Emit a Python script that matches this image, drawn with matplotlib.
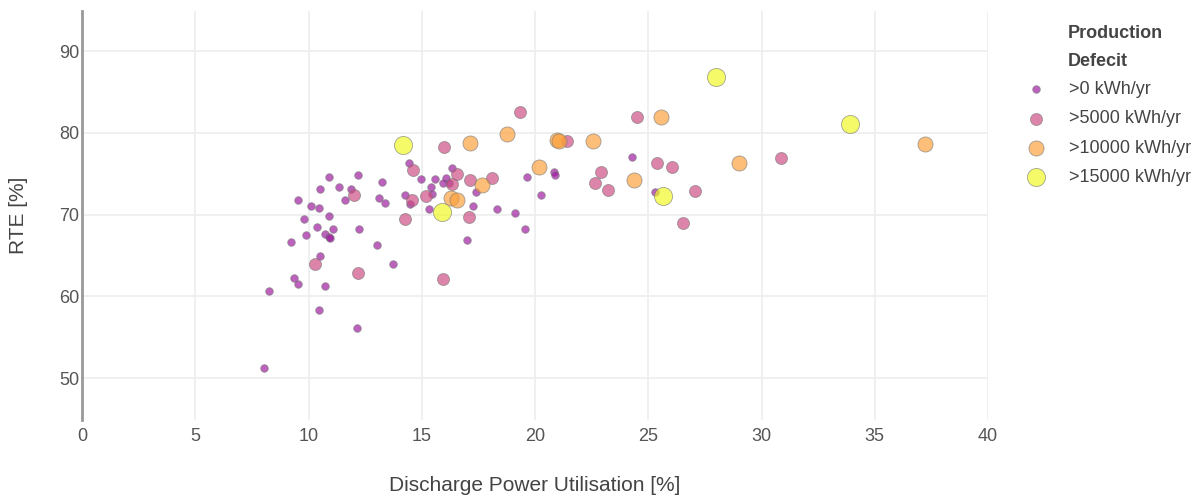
import matplotlib
matplotlib.use("Agg")
import matplotlib.pyplot as plt

# values
# >0 kWh/yr
util_0 = [14.45, 16.34, 10.92, 12.19, 13.25, 10.51, 11.36, 11.86, 11.62, 9.52,
          10.10, 10.45, 10.89, 9.81, 13.13, 13.36, 14.27, 14.48, 14.98, 15.58,
          16.06, 15.93, 15.39, 15.47, 17.41, 17.28, 18.32, 15.31, 19.66, 20.84,
          20.87, 20.25, 19.10, 19.55, 24.28, 25.31, 10.36, 9.89, 10.74, 10.89,
          11.07, 12.24, 9.24, 13.04, 17.01, 10.51, 13.72, 9.36, 9.54, 10.74,
          8.24, 10.48, 12.13, 8.04, 16.20, 10.95]
rte_0 = [76.34, 75.75, 74.62, 74.79, 74.04, 73.12, 73.33, 73.12, 71.77, 71.81,
         71.04, 70.80, 69.82, 69.45, 72.06, 71.44, 72.36, 71.28, 74.31, 74.31,
         74.44, 73.89, 73.36, 72.47, 72.78, 71.12, 70.64, 70.67, 74.55, 75.24,
         74.83, 72.42, 70.15, 68.26, 77.00, 72.79, 68.51, 67.53, 67.61, 67.28,
         68.19, 68.19, 66.64, 66.31, 66.88, 65.01, 63.94, 62.23, 61.50, 61.34,
         60.68, 58.32, 56.20, 51.31, 73.85, 67.10]

# >5000 kWh/yr
util_5k = [15.98, 19.34, 21.40, 24.50, 14.60, 16.57, 12.01, 14.58, 15.20, 16.34,
           17.14, 18.10, 14.27, 17.07, 10.30, 12.19, 15.93, 22.93, 22.66, 23.22,
           25.37, 26.05, 30.85, 27.05, 26.55]
rte_5k = [78.29, 82.54, 79.03, 81.89, 75.41, 74.95, 72.42, 71.81, 72.26, 73.73,
          74.26, 74.47, 69.49, 69.73, 63.94, 62.81, 62.15, 75.20, 73.82, 73.03,
          76.34, 75.77, 76.95, 72.91, 69.00]

# >10000 kWh/yr
util_10k = [17.13, 18.75, 20.96, 21.07, 22.57, 25.58, 37.23, 28.99, 24.37, 20.19,
            17.66, 16.30, 16.54]
rte_10k = [78.75, 79.81, 79.11, 78.95, 78.99, 81.89, 78.59, 76.26, 74.22, 75.85,
           73.61, 72.02, 71.74]

# >15000 kWh/yr
util_15k = [14.17, 15.89, 27.99, 33.91, 25.66]
rte_15k = [78.50, 70.31, 86.86, 81.07, 72.26]

groups = [
    (util_0, rte_0, ">0 kWh/yr", "#9c179e", 30),
    (util_5k, rte_5k, ">5000 kWh/yr", "#cc4a80", 75),
    (util_10k, rte_10k, ">10000 kWh/yr", "#fb9f3a", 118),
    (util_15k, rte_15k, ">15000 kWh/yr", "#f0f921", 170),
]

plt.rcParams['font.family'] = ['Liberation Sans', 'DejaVu Sans']

fig = plt.figure(figsize=(11.98, 4.96), dpi=100)
ax = fig.add_axes([82/1198, 1 - 420/496, 906/1198, 409/496])

for xs, ys, lab, col, sz in groups:
    ax.scatter(xs, ys, s=sz, c=col, alpha=0.68, edgecolors='#7a7a7a',
               linewidths=0.6, label=lab, zorder=3)

ax.set_xlim(0, 40)
ax.set_ylim(44.9, 94.9)
ax.set_xticks(range(0, 41, 5))
ax.set_yticks([50, 60, 70, 80, 90])
ax.grid(True, color='#eeeeee', linewidth=1.2, zorder=0)
ax.tick_params(length=0, labelsize=13, labelcolor='#555555')
ax.tick_params(axis='x', pad=6)
ax.tick_params(axis='y', pad=2)
for side in ['top', 'right', 'bottom']:
    ax.spines[side].set_visible(False)
ax.spines['left'].set_color('#999999')
ax.spines['left'].set_linewidth(2)

ax.set_xlabel('Discharge Power Utilisation [%]', fontsize=15, color='#444444', labelpad=22)
ax.set_ylabel('RTE [%]', fontsize=15, color='#444444', labelpad=22)

fig.text(1068/1198, 1 - 33/496, 'Production', fontsize=13, fontweight='bold',
         color='#444444', va='center')
fig.text(1068/1198, 1 - 61/496, 'Defecit', fontsize=13, fontweight='bold',
         color='#444444', va='center')
leg = ax.legend(loc='upper left', bbox_to_anchor=(1018/1198, 1 - 81/496),
                bbox_transform=fig.transFigure, frameon=False, fontsize=13,
                scatterpoints=1, handletextpad=0.8, labelspacing=0.68,
                borderaxespad=0, borderpad=0, labelcolor='#444444')

fig.savefig('out.png', dpi=100)
